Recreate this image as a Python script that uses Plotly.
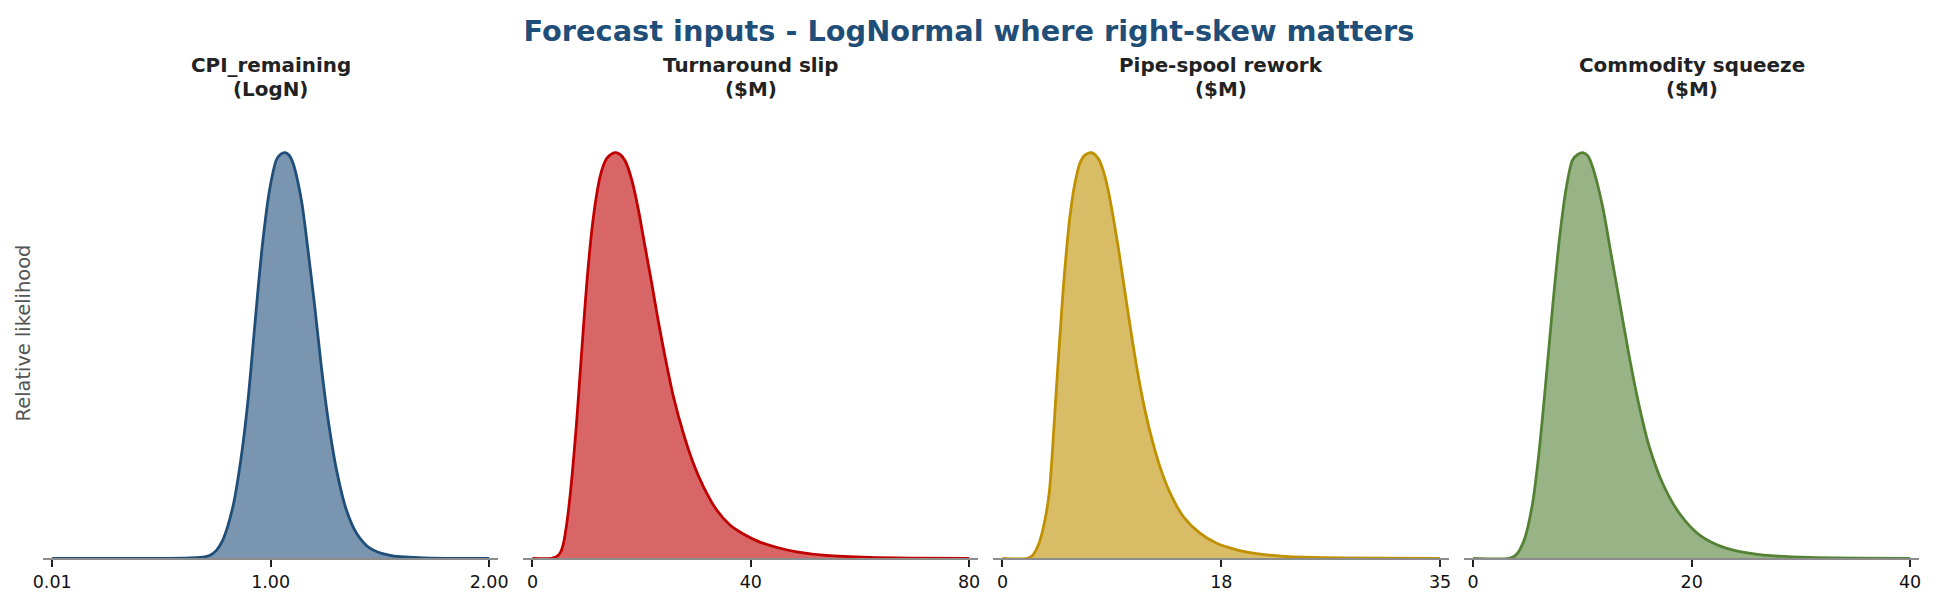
import plotly.graph_objects as go

# panel titles / colours
titles = ["CPI_remaining", "Turnaround slip", "Pipe-spool rework", "Commodity squeeze"]
units = ["(LogN)", "($M)", "($M)", "($M)"]
line_colors = ["#1f4e79", "#c00000", "#bf9000", "#548235"]
fill_colors = ["rgba(31,78,121,0.6)", "rgba(192,0,0,0.6)",
               "rgba(191,144,0,0.6)", "rgba(84,130,53,0.6)"]

# relative likelihood curves
cpi_x = [0.01, 0.50, 0.60, 0.68, 0.727, 0.757, 0.787, 0.833, 0.871, 0.902, 0.924, 0.947,
         0.970, 1.000, 1.031, 1.050, 1.072, 1.090, 1.107, 1.145, 1.175, 1.206, 1.236,
         1.267, 1.305, 1.350, 1.396, 1.457, 1.548, 1.70, 2.00]
cpi_y = [0, 0, 0.0005, 0.002, 0.007, 0.019, 0.045, 0.127, 0.25, 0.39, 0.52, 0.66,
         0.785, 0.908, 0.982, 0.996, 1.0, 0.993, 0.974, 0.883, 0.76, 0.62, 0.472,
         0.341, 0.218, 0.119, 0.062, 0.025, 0.007, 0.001, 0]

slip_x = [0, 3.5, 4.4, 5.1, 5.65, 6.29, 6.9, 7.51, 8.11, 8.73, 9.33, 9.95, 10.55,
          11.17, 11.8, 12.39, 13.0, 13.61, 14.5, 15.32, 16.1, 16.97, 18.19, 19.41,
          20.63, 21.85, 23.07, 24.29, 25.82, 27.65, 29.48, 31.31, 33.75, 36.19,
          38.63, 41.68, 45.0, 48.4, 53.8, 61.8, 70, 80]
slip_y = [0, 0, 0.004, 0.014, 0.035, 0.086, 0.155, 0.242, 0.34, 0.456, 0.568, 0.678,
          0.767, 0.842, 0.900, 0.941, 0.969, 0.986, 0.997, 1.0, 0.995, 0.980, 0.933,
          0.859, 0.768, 0.678, 0.583, 0.497, 0.399, 0.308, 0.234, 0.177, 0.119, 0.082,
          0.060, 0.040, 0.026, 0.016, 0.007, 0.002, 0.0005, 0]

pipe_x = [0, 2.0, 2.4, 2.9, 3.4, 3.75, 4.05, 4.32, 4.59, 4.85, 5.12, 5.39, 5.79,
          6.19, 6.59, 7.12, 7.65, 8.05, 8.45, 8.85, 9.25, 9.65, 10.19, 10.72, 11.26,
          11.79, 12.59, 13.39, 14.46, 15.79, 17.13, 18.73, 19.79, 22.0, 25.0, 35]
pipe_y = [0, 0, 0.007, 0.035, 0.095, 0.165, 0.292, 0.423, 0.546, 0.661, 0.76, 0.842,
          0.924, 0.974, 0.994, 1.0, 0.986, 0.957, 0.908, 0.842, 0.768, 0.686, 0.576,
          0.474, 0.385, 0.313, 0.226, 0.162, 0.103, 0.062, 0.037, 0.021, 0.014, 0.006,
          0.002, 0]

comm_x = [0, 3.3, 3.91, 4.67, 5.44, 6.05, 6.66, 7.27, 7.88, 8.49, 9.10, 9.6, 10.05,
          10.5, 10.93, 11.85, 12.61, 13.37, 14.29, 15.21, 16.12, 17.34, 18.87, 20.70,
          23.15, 26.2, 30.8, 40]
comm_y = [0, 0, 0.008, 0.045, 0.136, 0.267, 0.438, 0.619, 0.783, 0.908, 0.982, 0.996,
          1.0, 0.992, 0.965, 0.867, 0.752, 0.637, 0.497, 0.374, 0.275, 0.185, 0.111,
          0.058, 0.025, 0.009, 0.002, 0]

# axis ticks
tick_vals = [[0.01, 1.005, 2.00], [0, 40, 80], [0, 17.5, 35], [0, 20, 40]]
tick_text = [["0.01", "1.00", "2.00"], ["0", "40", "80"], ["0", "18", "35"], ["0", "20", "40"]]

xs = [cpi_x, slip_x, pipe_x, comm_x]
ys = [cpi_y, slip_y, pipe_y, comm_y]

# the page puts an 8px body margin round the plot
OFF = 8
W, H = 1938 - OFF, 610 - OFF


def px(p):
    return (p - OFF) / W


def py(p):
    return 1 - (p - OFF) / H


# panel extents in screen pixels
doms = [(43, 498.3), (523.3, 978.3), (993.3, 1449.3), (1464, 1919.3)]

fig = go.Figure()
layout = {}
for i in range(4):
    n = "" if i == 0 else str(i + 1)
    fig.add_trace(go.Scatter(x=xs[i], y=ys[i], mode="lines",
                             line=dict(color=line_colors[i], width=2.8, shape="spline", smoothing=0.8),
                             fill="tozeroy", fillcolor=fill_colors[i],
                             xaxis="x" + n, yaxis="y" + n, showlegend=False,
                             hoverinfo="skip"))
    lo, hi = tick_vals[i][0], tick_vals[i][-1]
    pad = 0.021 * (hi - lo)
    layout["xaxis" + n] = dict(domain=[px(doms[i][0]), px(doms[i][1])],
                               range=[lo - pad, hi + pad], anchor="y" + n,
                               showgrid=False, zeroline=False, automargin=False,
                               showline=True, linecolor="#8c8c8c", linewidth=2,
                               ticks="outside", ticklen=7, tickwidth=1.6, tickcolor="#222222",
                               tickvals=tick_vals[i], ticktext=tick_text[i],
                               tickfont=dict(size=17.5, color="#111111"))
    layout["yaxis" + n] = dict(domain=[py(558.3), py(132.4)],
                               range=[0, 1.05], anchor="x" + n, automargin=False,
                               showgrid=False, zeroline=False, showline=False,
                               showticklabels=False, ticks="")

annotations = []
for i in range(4):
    cx = px((doms[i][0] + doms[i][1]) / 2)
    for txt, yy in ((titles[i], 65.5), (units[i], 89.5)):
        annotations.append(dict(text="<b>%s</b>" % txt, x=cx, y=py(yy),
                                xref="paper", yref="paper",
                                xanchor="center", yanchor="middle", showarrow=False,
                                font=dict(size=19.9, color="#222222")))
annotations.append(dict(text="Relative likelihood", textangle=-90,
                        x=px(23.7), y=py(332.7), xref="paper", yref="paper",
                        xanchor="center", yanchor="middle", showarrow=False,
                        font=dict(size=19.4, color="#555555")))

fig.update_layout(**layout)
fig.update_layout(
    width=W, height=H,
    margin=dict(l=0, r=0, t=0, b=0, autoexpand=False),
    paper_bgcolor="white", plot_bgcolor="white",
    font=dict(family="DejaVu Sans"),
    title=dict(text="<b>Forecast inputs - LogNormal where right-skew matters</b>",
               x=px(969), xanchor="center", y=py(30.5), yanchor="middle",
               font=dict(size=28.8, color="#1f4e79")),
    annotations=annotations,
)

fig.write_html("out.html")
